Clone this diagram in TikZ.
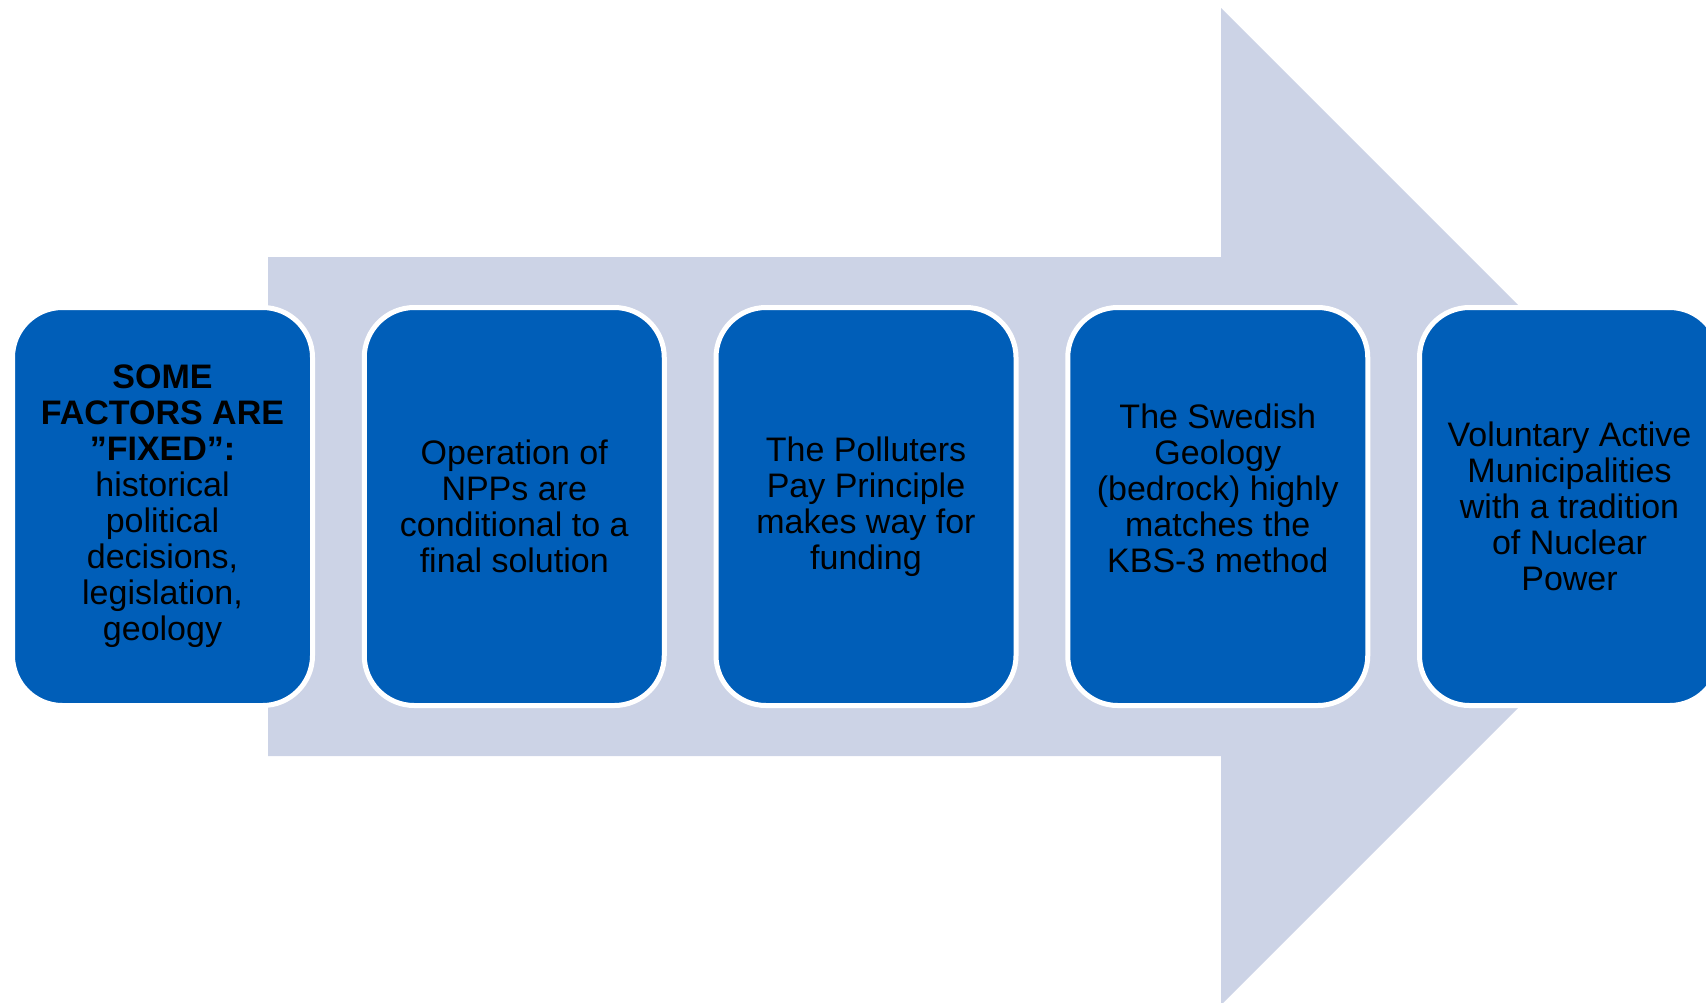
\documentclass[tikz,border=0pt]{standalone}
\usepackage{fontspec}
\setmainfont{Liberation Sans}
\definecolor{boxblue}{RGB}{0,94,184}
\definecolor{arrowgray}{RGB}{204,211,230}
\begin{document}
\begin{tikzpicture}[x=0.5pt,y=-0.5pt,
  factor/.style={draw=white, line width=2.5pt, fill=boxblue, rounded corners=25pt,
    minimum width=150pt, minimum height=199pt, inner sep=0pt, align=center,
    font=\fontsize{17pt}{18pt}\selectfont, text=black}]
\useasboundingbox (0,0) rectangle (1706,1002);
\clip (0,0) rectangle (1706,1002);
\fill[arrowgray] (268,257) -- (1221,257) -- (1221,8) -- (1719.5,506.5) -- (1221,1005) -- (1221,756) -- (268,756) -- cycle;
\node[factor] (b1) at (162.5,506.5) {\textbf{SOME}\\\textbf{FACTORS ARE}\\\textbf{”FIXED”:}\\historical\\political\\decisions,\\legislation,\\geology};
\node[factor] (b2) at (514.25,506.5) {Operation of\\NPPs are\\conditional to a\\final solution};
\node[factor] (b3) at (866,506.5) {The Polluters\\Pay Principle\\makes way for\\funding};
\node[factor] (b4) at (1217.75,506.5) {The Swedish\\Geology\\(bedrock) highly\\matches the\\KBS-3 method\\\mbox{}};
\node[factor] (b5) at (1569.5,506.5) {Voluntary Active\\Municipalities\\with a tradition\\of Nuclear\\Power};
\end{tikzpicture}
\end{document}
